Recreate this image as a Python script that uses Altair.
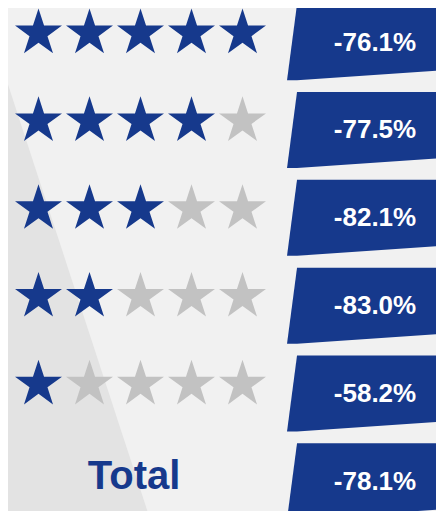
import math
import altair as alt
import pandas as pd

# ---- data ----
ratings = [5, 4, 3, 2, 1]
changes = ["-76.1%", "-77.5%", "-82.1%", "-83.0%", "-58.2%"]
total_label = "Total"
total_change = "-78.1%"

BLUE = "#16398c"
GREY_STAR = "#c2c2c2"
BG_LIGHT = "#f1f1f1"
BG_DARK = "#e3e3e3"
FONT = "Liberation Sans"

W, H = 428, 503
X_DOM = [0.402, 8.794]
Y_DOM = [-0.276, 5.453]
PX_Y = H / (Y_DOM[1] - Y_DOM[0])  # pixels per row unit

# star path (unit circle)
pts = []
for k in range(10):
    r = 1.0 if k % 2 == 0 else 0.382
    a = math.radians(-90 + 36 * k)
    pts.append(f"{r*math.cos(a):.4f},{r*math.sin(a):.4f}")
STAR = "M" + "L".join(pts) + "Z"

# tables
rows = []
for i, rt in enumerate(ratings):
    for s in range(1, 6):
        rows.append({"row": i, "star": s, "filled": "on" if s <= rt else "off"})
stars = pd.DataFrame(rows)

labels = pd.DataFrame({"row": list(range(len(changes) + 1)),
                       "label": changes + [total_change]})
total = pd.DataFrame({"row": [len(ratings)], "label": [total_label]})

# parallelogram boxes (offsets in pixels converted to row units)
top_off, bl_off, br_off = -28 / PX_Y, 48 / PX_Y, 38 / PX_Y
x_lb, x_lt, x_r = 5.873, 6.069, 8.951
box_rows = []
for i in range(len(changes) + 1):
    box_rows += [
        {"row": i, "x": x_lb, "y": i + bl_off, "y2": i + bl_off},
        {"row": i, "x": x_lt, "y": i + top_off, "y2": i + bl_off},
        {"row": i, "x": x_r, "y": i + top_off, "y2": i + br_off},
    ]
boxes = pd.DataFrame(box_rows)

# darker background wedge on the left
wedge = pd.DataFrame({"x": [0.402, 3.135], "y": [0.595, 5.453], "y2": [5.453, 5.453]})

xs = alt.Scale(domain=X_DOM, nice=False, zero=False)
ys = alt.Scale(domain=Y_DOM, nice=False, zero=False, reverse=True)

bg = alt.Chart(wedge).mark_area(color=BG_DARK, clip=True).encode(
    x=alt.X("x:Q", scale=xs, axis=None),
    y=alt.Y("y:Q", scale=ys, axis=None),
    y2="y2:Q",
)

star_layer = alt.Chart(stars).mark_point(
    shape=STAR, size=2440, filled=True, opacity=1, strokeWidth=0, yOffset=1.0
).encode(
    x=alt.X("star:Q", scale=xs, axis=None),
    y=alt.Y("row:Q", scale=ys, axis=None),
    color=alt.Color("filled:N", scale=alt.Scale(domain=["on", "off"], range=[BLUE, GREY_STAR]), legend=None),
)

box_layer = alt.Chart(boxes).mark_area(color=BLUE, opacity=1).encode(
    x=alt.X("x:Q", scale=xs, axis=None),
    y=alt.Y("y:Q", scale=ys, axis=None),
    y2="y2:Q",
    detail="row:N",
)

label_layer = alt.Chart(labels).mark_text(
    color="white", font=FONT, fontWeight="bold", fontSize=26,
    align="center", baseline="alphabetic", yOffset=18.3,
).encode(
    x=alt.value((7.598 - X_DOM[0]) * W / (X_DOM[1] - X_DOM[0])),
    y=alt.Y("row:Q", scale=ys, axis=None),
    text="label:N",
)

total_layer = alt.Chart(total).mark_text(
    color=BLUE, font=FONT, fontWeight="bold", fontSize=40,
    align="center", baseline="alphabetic", yOffset=17.8,
).encode(
    x=alt.value((2.873 - X_DOM[0]) * W / (X_DOM[1] - X_DOM[0])),
    y=alt.Y("row:Q", scale=ys, axis=None),
    text="label:N",
)

chart = alt.layer(bg, star_layer, box_layer, label_layer, total_layer).properties(
    width=W, height=H, padding=0,
    autosize=alt.AutoSizeParams(type="none"),
    background=BG_LIGHT,
).configure_view(stroke=None)

chart.save("out.html", embed_options={"renderer": "svg", "actions": False})
